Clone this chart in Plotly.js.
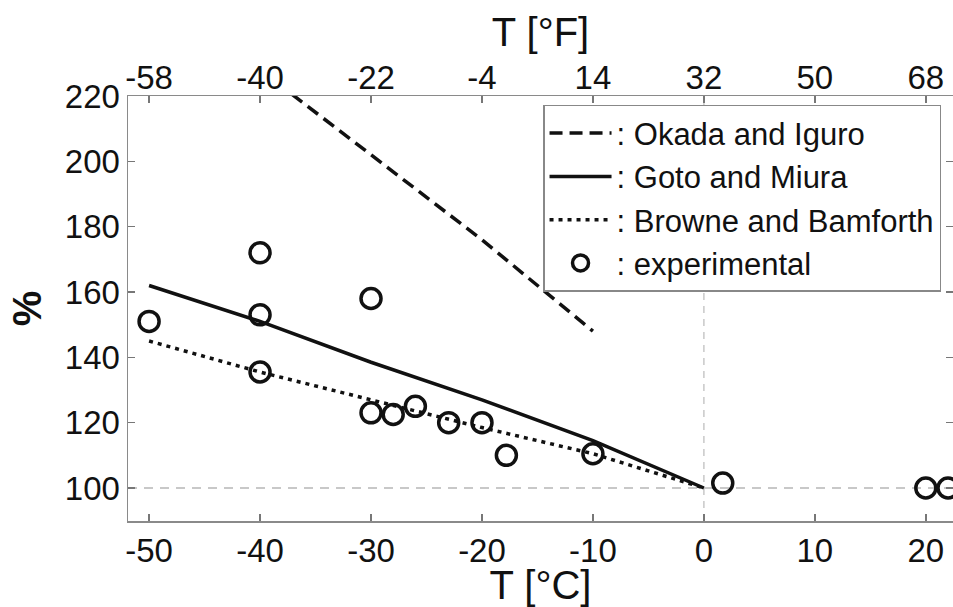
<!DOCTYPE html>
<html>
<head>
<meta charset="utf-8">
<script src="https://cdn.plot.ly/plotly-3.0.1.min.js"></script>
<style>html,body{margin:0;padding:0;background:#fff;}#chart{width:953px;height:607px;}</style>
</head>
<body>
<div id="chart"></div>
<script>
// ---- data ----
const okadaT = [-40, -30, -20, -10];
const okadaPct = [228, 202, 176, 148];

const gotoT = [-50, -40, -30, -20, -10, 0];
const gotoPct = [162, 151, 138.5, 127, 114.5, 100];

const browneT = [-50, -40, -30, -20, -10, 0];
const brownePct = [145, 135.5, 127, 118.5, 110.5, 100];

const expT = [-50, -40, -40, -40, -30, -30, -28, -26, -23, -20, -17.8, -10, 1.7, 20, 22];
const expPct = [151, 172, 153, 135.5, 158, 123, 122.5, 125, 120, 120, 110, 110.5, 101.5, 100, 100];

const celsiusTicks = [-50, -40, -30, -20, -10, 0, 10, 20];
const fahrenheitTickVals = [-50, -40, -30, -20, -10, 0, 10, 20];
const fahrenheitTickText = ['-58', '-40', '-22', '-4', '14', '32', '50', '68'];
const pctTicks = [100, 120, 140, 160, 180, 200, 220];

const refTemp = 0;   // vertical reference line (0 °C)
const refPct = 100;  // horizontal reference line (100 %)

const seriesNames = [': Okada and Iguro', ': Goto and Miura', ': Browne and Bamforth', ': experimental'];

// ---- traces ----
const FONT = 'Liberation Sans, Arial, Helvetica, sans-serif';
const traces = [
  {x: okadaT, y: okadaPct, mode: 'lines', name: seriesNames[0],
   line: {color: '#111', width: 3.5, dash: '13px,7px'}},
  {x: gotoT, y: gotoPct, mode: 'lines', name: seriesNames[1],
   line: {color: '#111', width: 3.5}},
  {x: browneT, y: brownePct, mode: 'lines', name: seriesNames[2],
   line: {color: '#111', width: 3.5, dash: '4px,5px'}},
  {x: expT, y: expPct, mode: 'markers', name: seriesNames[3],
   marker: {symbol: 'circle-open', size: 20, color: '#111', line: {width: 3.5, color: '#111'}},
   cliponaxis: true},
  {x: [], y: [], xaxis: 'x2', yaxis: 'y', showlegend: false, hoverinfo: 'skip'}
];

const axisCommon = {
  showgrid: false, zeroline: false,
  showline: true, linecolor: '#8a8a8a', linewidth: 1.5,
  ticks: 'inside', ticklen: 7, tickwidth: 1.5, tickcolor: '#777',
  tickfont: {family: FONT, size: 33, color: '#111'}
};

const layout = {
  width: 953, height: 607,
  margin: {l: 128, r: 0, t: 96, b: 86},
  paper_bgcolor: '#fff', plot_bgcolor: '#fff',
  font: {family: FONT, color: '#111'},
  showlegend: true,
  xaxis: Object.assign({}, axisCommon, {
    range: [-51.9, 22.45], tickmode: 'array', tickvals: celsiusTicks,
    ticktext: celsiusTicks.map(String),
    title: {text: 'T [°C]', font: {family: FONT, size: 40, color: '#111'}, standoff: 8},
    mirror: false, automargin: false
  }),
  xaxis2: Object.assign({}, axisCommon, {
    overlaying: 'x', side: 'top', range: [-51.9, 22.45],
    tickmode: 'array', tickvals: fahrenheitTickVals, ticktext: fahrenheitTickText,
    ticklabelstandoff: -8,
    title: {text: 'T [°F]', font: {family: FONT, size: 40, color: '#111'}, standoff: 0},
    automargin: false
  }),
  yaxis: Object.assign({}, axisCommon, {
    range: [89.9, 220], tickmode: 'array', tickvals: pctTicks,
    ticktext: pctTicks.map(String), mirror: 'ticks',
    title: {text: '<b>%</b>', font: {family: FONT, size: 40, color: '#111'}, standoff: 11},
    automargin: false
  }),
  legend: {
    x: 0.9855, y: 0.979, xanchor: 'right', yanchor: 'top',
    bgcolor: '#fff', bordercolor: '#888', borderwidth: 1.5,
    font: {family: FONT, size: 31, color: '#111'},
    tracegroupgap: 0, itemsizing: 'trace', itemwidth: 62
  },
  shapes: [
    {type: 'line', xref: 'x', yref: 'paper', x0: refTemp, x1: refTemp, y0: 0, y1: 1,
     line: {color: '#c8c8c8', width: 1.5, dash: '7px,6px'}, layer: 'below'},
    {type: 'line', xref: 'paper', yref: 'y', x0: 0, x1: 1, y0: refPct, y1: refPct,
     line: {color: '#c8c8c8', width: 2, dash: '9px,7px'}, layer: 'below'}
  ]
};

Plotly.newPlot('chart', traces, layout, {displayModeBar: false, staticPlot: true});
</script>
</body>
</html>
